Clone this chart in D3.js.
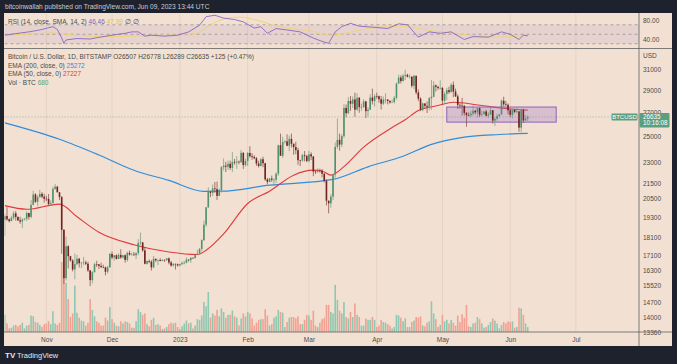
<!DOCTYPE html>
<html>
<head>
<meta charset="utf-8">
<script src="https://cdn.jsdelivr.net/npm/d3@7"></script>
<style>
  html, body { margin: 0; padding: 0; background: #1e222d; }
  svg { display: block; font-family: "Liberation Sans", Arial, sans-serif; }
</style>
</head>
<body>
<svg id="chart" width="677" height="364"></svg>
<script>
// ---- Daily BTCUSD (Bitstamp), 2022-10-13 .. 2023-06-09 ----
const firstDay = '2022-10-13';
const firstOpen = 19150;

const closes = [
  19380,19180,19070,19270,19550,19330,19120,19040,19170,19210,19570,19330,20090,20770,20290,20600,20810,20630,20490,
  20480,20150,20200,21150,21300,20920,20600,18540,15880,17590,17040,16800,16330,16610,16900,16660,16690,16700,16630,16280,15780,16190,16610,16600,16520,16460,16440,16210,16440,17160,
  16970,17090,16890,17110,16970,17090,16840,17220,17130,17130,17090,17210,17780,17810,17360,16630,16780,16740,16440,16900,16820,16830,16780,16840,16830,16920,16700,16540,16630,16600,16540,
  16610,16670,16680,16850,16830,16950,16940,17120,17180,17440,17940,18850,19930,20950,20880,21180,21130,20680,21070,22670,22780,22710,22920,22620,23060,23010,23080,23030,23740,22830,23130,
  23730,23490,23430,23330,22940,22760,23260,22960,21800,21630,21860,21780,21780,22200,24330,23520,24570,24630,24290,24830,24440,24180,23950,23190,23160,23560,23490,23130,
  23630,23470,22360,22350,22430,22410,22200,21700,20360,20190,20630,22150,24200,24750,24380,25050,27420,26960,28040,27790,28180,27270,28330,27490,27490,28000,27140,27270,28350,28030,28480,
  28470,28200,27800,28170,28170,28040,27920,27950,28330,29650,30230,29890,30400,30490,30320,30320,29440,30400,28820,28250,27270,27820,27600,27520,28300,28420,29470,29330,29230,29240,
  28070,28680,29030,28850,29530,28900,28450,27690,27630,27620,26990,26800,26780,26920,27170,27030,27400,26830,26890,27110,26750,26850,27220,26330,26470,26720,26860,28070,27740,27700,27210,
  26820,27250,27070,27120,25740,27230,26340,26507,26635
];

const highs = [
  19510,19950,19230,19400,19680,19700,19350,19340,19250,19250,19690,19600,20400,21020,20860,20740,21080,20930,20830,
  20690,20800,20390,21300,21470,21350,20920,20670,18590,18150,17650,17060,16880,17180,17110,16950,16730,17000,16800,16740,16300,16250,16680,16790,16620,16690,16580,16480,16530,17220,
  17300,17100,17140,17200,17420,17110,17140,17290,17350,17230,17270,17240,18000,18380,17840,17530,16800,16860,16820,17050,16900,16860,16940,16860,16860,16940,16970,16780,16650,16630,16640,
  16630,16760,16780,16980,16880,16990,16970,17150,17390,17490,17990,19100,19960,21260,21000,21450,21620,21650,21170,22750,23320,23060,23160,23160,23800,23280,23500,23160,23950,23790,23300,
  23800,24250,23720,23560,23430,23150,23350,23450,22990,21900,21900,22070,21890,22300,24370,25250,25000,24700,25190,25100,25250,24460,24600,24130,23220,23680,23880,23600,
  23900,23780,23480,22420,22600,22560,22540,22270,21800,20370,20800,22200,24550,26500,25250,25200,27750,27720,28400,28500,28450,28800,28750,28400,27800,28200,28050,27500,28650,29170,28650,
  28800,28530,28490,28440,28750,28190,28100,28170,28500,29750,30520,30450,30600,31000,30600,30550,30320,30480,30410,29100,28380,27880,27830,28000,28400,30000,29880,29580,29450,29960,
  29330,28890,29250,29350,29700,29840,29170,28640,27830,28330,27630,27060,27030,27180,27640,27260,27480,27470,27180,27150,27260,27050,27480,27230,26620,26920,26900,28180,28430,28040,27830,
  27350,27300,27320,27440,27130,27350,27360,26800,26778
];

const lows = [
  18190,19090,18990,19060,19160,19100,19070,18900,18660,19110,19070,19160,19240,20060,20220,20000,20560,20520,20240,
  20340,20060,20040,20180,21080,20900,20400,17170,15590,15760,16380,16750,16230,15820,16560,16430,16400,16550,16560,16200,15480,15620,16160,16460,16350,16400,16400,16020,16110,16430,
  16870,16800,16860,16880,16900,16910,16690,16740,17070,17090,17070,16880,17090,17660,17280,16600,16590,16660,16270,16400,16730,16560,16760,16770,16730,16790,16600,16470,16490,16330,16480,
  16500,16560,16600,16660,16750,16680,16910,16910,17100,17160,17320,17900,18720,19900,20600,20670,20880,20410,20660,20890,22440,22320,22490,22470,22330,22850,22550,22880,23000,22550,22720,
  22760,23380,23220,23260,22770,22650,22740,22670,21700,21470,21600,21630,21370,21550,22050,23500,23370,24460,24250,23870,24150,23600,23630,22840,22750,23070,23100,23030,
  23030,23200,22030,22180,22270,22280,21940,21590,20050,19550,19900,20400,21920,24050,23900,24180,24900,26600,26880,27170,27400,26650,27170,27000,27170,27440,26550,26660,27250,27720,27540,
  28240,27880,27280,27680,27830,27730,27790,27880,27810,28170,29620,29660,29860,29980,30240,30140,29270,29120,28630,28020,27140,27130,27380,26980,27210,27250,28380,28900,29050,29100,
  27690,27870,28120,28690,28820,28390,28400,27330,27350,26760,26750,25810,26690,26600,26740,26850,26580,26630,26670,26850,26680,26540,26820,26080,25870,26330,26570,26830,27560,27580,26850,
  26620,26520,26960,26950,25400,25360,26130,26320,26289
];

// volume in BTC
const volumes = [
  2400,1200,500,600,900,1000,800,1000,1300,500,900,1000,2300,2200,1400,1300,1000,700,1100,
  1200,1500,1100,2900,1200,1000,1300,9800,14300,6900,4600,2100,2600,6500,2700,2000,1600,1500,900,1300,4600,3100,2200,1500,1300,900,900,2000,1600,3500,
  1800,1300,900,800,1500,1200,1500,1400,1200,600,600,1500,3200,2800,2400,2600,1100,800,1700,2000,1000,1100,900,400,500,700,1100,1300,1200,1300,700,
  400,800,1200,1600,1200,1300,500,900,1800,1700,2300,4200,3600,5600,2000,2600,2300,3100,2200,3300,2800,2000,2400,2400,3000,2200,2000,900,1900,2600,2200,
  2800,2600,1900,900,1300,1700,1800,1800,3200,2300,900,1100,2000,2200,3100,2800,2700,700,1400,2000,2100,2100,1900,2200,1100,1100,1700,2400,
  2300,1700,3000,900,700,1300,1800,2000,3800,3800,2800,2600,6600,4500,3000,2600,4200,2100,1900,2800,2100,4000,2400,2100,900,900,1900,1700,1700,2100,1700,
  700,900,1700,1400,1300,1100,900,500,700,2400,2300,2000,1500,1900,700,700,1400,1600,2100,2000,2200,900,800,1300,1500,4300,2600,1800,700,1000,
  2400,1500,1700,1200,1700,1300,900,2300,1400,2500,2000,3800,800,700,1200,1300,2100,1800,1200,600,700,1000,1400,1900,1600,1200,500,1000,1400,1200,1500,
  1400,1500,600,700,3400,3300,2400,1200,680
];

// EMA lines
const ema200Dates = ['2022-10-13','2022-11-07','2022-11-25','2022-12-11','2022-12-27','2023-01-12','2023-01-20','2023-02-11','2023-03-12','2023-03-28','2023-04-13','2023-04-26','2023-05-09','2023-05-27','2023-06-09'];
const ema200Values = [26140,24800,23580,22450,21730,20980,20990,21400,21800,22700,23480,24390,24910,25180,25272];

const ema50Dates = ['2022-10-13','2022-10-23','2022-11-07','2022-11-15','2022-11-25','2022-12-11','2022-12-27','2023-01-09','2023-01-13','2023-01-21','2023-02-01','2023-02-11','2023-02-22','2023-03-03','2023-03-07','2023-03-11','2023-03-17','2023-03-26','2023-04-08','2023-04-14','2023-04-20','2023-04-29','2023-05-06','2023-05-19','2023-06-01','2023-06-09'];
const ema50Values = [20040,19810,20140,19340,18400,17680,17270,17130,17370,18300,20180,20990,22100,22460,22400,22100,22710,24180,25750,26400,27190,27630,27920,27630,27330,27227];

// RSI panel
const rsiDates = ['2022-10-13','2022-10-19','2022-10-24','2022-10-29','2022-11-04','2022-11-06','2022-11-08','2022-11-09','2022-11-10','2022-11-15','2022-11-21','2022-11-25','2022-12-01','2022-12-07','2022-12-10','2022-12-13','2022-12-16','2022-12-19','2022-12-25','2022-12-31','2023-01-05','2023-01-10','2023-01-13','2023-01-17','2023-01-21','2023-01-26','2023-01-30','2023-02-04','2023-02-07','2023-02-10','2023-02-14','2023-02-19','2023-02-25','2023-03-03','2023-03-07','2023-03-10','2023-03-13','2023-03-16','2023-03-20','2023-03-24','2023-03-30','2023-04-06','2023-04-11','2023-04-15','2023-04-20','2023-04-25','2023-04-30','2023-05-05','2023-05-11','2023-05-15','2023-05-22','2023-05-28','2023-06-01','2023-06-05','2023-06-07','2023-06-09'];
const rsiValues = [48,52,55,59,66,60,42,31,38,41,40,43.5,48,52,55,55,46,48,46,48,55,69,87,90,84,81,76,63,66,52,62,59,55,42,35,31,55,66,73,67,65,62,72,70,44,55,52,55,39,45,44,55,50,39,48,46.46];

const rsiSmaDates = ['2022-10-13','2022-10-24','2022-11-04','2022-11-10','2022-11-20','2022-12-05','2022-12-20','2023-01-05','2023-01-10','2023-01-15','2023-01-22','2023-01-28','2023-02-05','2023-02-12','2023-02-20','2023-03-01','2023-03-10','2023-03-16','2023-03-24','2023-04-03','2023-04-12','2023-04-20','2023-04-27','2023-05-05','2023-05-15','2023-05-25','2023-06-01','2023-06-09'];
const rsiSmaValues = [48,50,53,50,46,45,48,48,55,70,83,86,80,70,62,58,48,50,59,65,67,62,57,53,47,44,45,47.99];

// axis labels
const priceTicks = [31000,29000,27000,25000,23000,21500,20500,19300,18100,17100,16300,15520,14700,14000,13360];
const monthTicks = ['2022-11-01','2022-12-01','2023-01-01','2023-02-01','2023-03-01','2023-04-01','2023-05-01','2023-06-01','2023-07-01'];
const monthLabels = ['Nov','Dec','2023','Feb','Mar','Apr','May','Jun','Jul'];

// consolidation box drawn on the chart
const boxDates = ['2023-05-03','2023-06-22'];
const boxPrices = [27500, 26200];

// ---- layout ----
const BG = '#f2e1d2';
const TEXT = '#4a4a4a';
const UP = '#4f936e', DOWN = '#72231f';
const VOL_UP = '#8ec8b2', VOL_DOWN = '#f0a192';
const plot = { left: 4.5, right: 639, rsiTop: 13.5, rsiBottom: 48.5, top: 48.5, bottom: 332 };

const parse = d3.utcParse('%Y-%m-%d');
const day0 = parse(firstDay);
const bars = closes.map((c, i) => ({
  date: d3.utcDay.offset(day0, i),
  open: i === 0 ? firstOpen : closes[i - 1], // crypto trades 24/7: open = previous close
  high: highs[i],
  low: lows[i],
  close: c,
  vol: volumes[i]
}));

const svg = d3.select('#chart');

// scales
const x = d3.scaleUtc()
  .domain([parse('2022-11-08'), parse('2023-06-05')])
  .range([61.7, 519]);
const y = d3.scaleLog().domain([13360, 31000]).range([332, 69.7]);
const yVol = d3.scaleLinear().domain([0, 14000]).range([332, 232]);
const yRsi = d3.scaleLinear().domain([40, 80]).range([39, 20]);

// panel background
svg.append('rect')
  .attr('x', 4).attr('y', 13).attr('width', 668).attr('height', 333)
  .attr('fill', BG);

const defs = svg.append('defs');
defs.append('clipPath').attr('id', 'clipMain').append('rect')
  .attr('x', plot.left).attr('y', plot.top)
  .attr('width', plot.right - plot.left).attr('height', plot.bottom - plot.top);
defs.append('clipPath').attr('id', 'clipRsi').append('rect')
  .attr('x', plot.left).attr('y', plot.rsiTop)
  .attr('width', plot.right - plot.left).attr('height', plot.rsiBottom - plot.rsiTop);

// vertical month grid
svg.append('g')
  .selectAll('line')
  .data(monthTicks.map(parse))
  .join('line')
  .attr('x1', d => x(d)).attr('x2', d => x(d))
  .attr('y1', plot.rsiTop).attr('y2', plot.bottom)
  .attr('stroke', '#e6d3c3').attr('stroke-width', 1);

// ---- RSI panel ----
const rsiG = svg.append('g').attr('clip-path', 'url(#clipRsi)');
rsiG.append('rect')
  .attr('x', plot.left).attr('width', plot.right - plot.left)
  .attr('y', yRsi(70)).attr('height', yRsi(30) - yRsi(70))
  .attr('fill', '#7e57c2').attr('fill-opacity', 0.1);
rsiG.selectAll('.band')
  .data([70, 50, 30])
  .join('line')
  .attr('x1', plot.left).attr('x2', plot.right)
  .attr('y1', d => yRsi(d)).attr('y2', d => yRsi(d))
  .attr('stroke', '#8a8a8a').attr('stroke-width', 0.7)
  .attr('stroke-dasharray', '3,3');

const rsiLine = d3.line()
  .x(d => x(d[0]))
  .y(d => yRsi(d[1]))
  .curve(d3.curveLinear);
rsiG.append('path')
  .datum(rsiSmaDates.map((d, i) => [parse(d), rsiSmaValues[i]]))
  .attr('d', rsiLine.curve(d3.curveMonotoneX))
  .attr('fill', 'none').attr('stroke', '#f0d36b').attr('stroke-width', 0.9);
rsiG.append('path')
  .datum(rsiDates.map((d, i) => [parse(d), rsiValues[i]]))
  .attr('d', rsiLine.curve(d3.curveLinear))
  .attr('fill', 'none').attr('stroke', '#7e57c2').attr('stroke-width', 0.8);

// ---- main panel ----
const main = svg.append('g').attr('clip-path', 'url(#clipMain)');

// volume
main.append('g')
  .selectAll('rect')
  .data(bars)
  .join('rect')
  .attr('x', d => x(d.date) - 0.8)
  .attr('width', 1.6)
  .attr('y', d => yVol(d.vol))
  .attr('height', d => yVol(0) - yVol(d.vol))
  .attr('fill', d => d.close >= d.open ? VOL_UP : VOL_DOWN);

// EMA lines
const priceLine = d3.line()
  .x(d => x(d[0]))
  .y(d => y(d[1]))
  .curve(d3.curveMonotoneX);
main.append('path')
  .datum(ema200Dates.map((d, i) => [parse(d), ema200Values[i]]))
  .attr('d', priceLine)
  .attr('fill', 'none').attr('stroke', '#2f8ddb').attr('stroke-width', 1.2);
main.append('path')
  .datum(ema50Dates.map((d, i) => [parse(d), ema50Values[i]]))
  .attr('d', priceLine)
  .attr('fill', 'none').attr('stroke', '#e03a3e').attr('stroke-width', 1.1);

// last price dotted line
const last = bars[bars.length - 1];
main.append('line')
  .attr('x1', plot.left).attr('x2', plot.right)
  .attr('y1', y(last.close)).attr('y2', y(last.close))
  .attr('stroke', '#79a98f').attr('stroke-width', 0.8)
  .attr('stroke-dasharray', '1,2');

// box
main.append('rect')
  .attr('x', x(parse(boxDates[0])))
  .attr('width', x(parse(boxDates[1])) - x(parse(boxDates[0])))
  .attr('y', y(boxPrices[0]))
  .attr('height', y(boxPrices[1]) - y(boxPrices[0]))
  .attr('fill', '#9c72c9').attr('fill-opacity', 0.3)
  .attr('stroke', '#8e63b8').attr('stroke-width', 1);

// candles
const candles = main.append('g')
  .selectAll('g')
  .data(bars)
  .join('g');
candles.append('line')
  .attr('x1', d => x(d.date)).attr('x2', d => x(d.date))
  .attr('y1', d => y(d.high)).attr('y2', d => y(d.low))
  .attr('stroke', d => d.close >= d.open ? '#6f9a82' : '#7a4540')
  .attr('stroke-width', 0.7);
candles.append('rect')
  .attr('x', d => x(d.date) - 0.8)
  .attr('width', 1.6)
  .attr('y', d => y(Math.max(d.open, d.close)))
  .attr('height', d => Math.max(0.6, Math.abs(y(d.open) - y(d.close))))
  .attr('fill', d => d.close >= d.open ? UP : DOWN);

// ---- axes ----
const yAxis = svg.append('g')
  .attr('transform', `translate(${plot.right},0)`)
  .call(d3.axisRight(y).tickValues(priceTicks).tickFormat(d3.format('d')).tickSize(0).tickPadding(4));
yAxis.select('.domain').remove();
yAxis.selectAll('text').attr('fill', TEXT).attr('font-size', 6.5).attr('font-family', '"Liberation Sans", Arial, sans-serif');

const rsiAxis = svg.append('g')
  .attr('transform', `translate(${plot.right},0)`)
  .call(d3.axisRight(yRsi).tickValues([80, 40]).tickFormat(d3.format('.2f')).tickSize(0).tickPadding(4));
rsiAxis.select('.domain').remove();
rsiAxis.selectAll('text').attr('fill', TEXT).attr('font-size', 6.5).attr('font-family', '"Liberation Sans", Arial, sans-serif');

const xAxis = svg.append('g')
  .attr('transform', `translate(0,${plot.bottom})`)
  .call(d3.axisBottom(x).tickValues(monthTicks.map(parse)).tickFormat((d, i) => monthLabels[i]).tickSize(0).tickPadding(5));
xAxis.select('.domain').remove();
xAxis.selectAll('text').attr('fill', TEXT).attr('font-size', 6.5).attr('font-family', '"Liberation Sans", Arial, sans-serif');

svg.append('text').attr('x', 643).attr('y', 57.5)
  .attr('font-size', 6.5).attr('fill', TEXT).text('USD');

// separators
const sep = svg.append('g').attr('stroke', '#5f5f5f').attr('stroke-width', 0.8);
sep.append('line').attr('x1', plot.right).attr('x2', plot.right).attr('y1', 13).attr('y2', 346);
sep.append('line').attr('x1', 4).attr('x2', 672).attr('y1', plot.rsiBottom).attr('y2', plot.rsiBottom);
sep.append('line').attr('x1', 4).attr('x2', 672).attr('y1', plot.bottom).attr('y2', plot.bottom);

// price labels on the right
const lastY = y(last.close);
svg.append('rect').attr('x', 611.5).attr('y', lastY - 3.5).attr('width', 26).attr('height', 7)
  .attr('rx', 1).attr('fill', '#5b9f7f');
svg.append('text').attr('x', 624.5).attr('y', lastY + 2.2).attr('text-anchor', 'middle')
  .attr('font-size', 6).attr('fill', '#fff').text('BTCUSD');
svg.append('rect').attr('x', 639.5).attr('y', lastY - 4).attr('width', 30).attr('height', 14.5)
  .attr('rx', 1).attr('fill', '#5b9f7f');
svg.append('text').attr('x', 643).attr('y', lastY + 1.8)
  .attr('font-size', 6.3).attr('fill', '#fff').text(String(last.close));
svg.append('text').attr('x', 643).attr('y', lastY + 8.5)
  .attr('font-size', 6.3).attr('fill', '#fff').text('10:16:08');

// ---- legends ----
function legendLine(yPos, parts) {
  const t = svg.append('text').attr('x', 8).attr('y', yPos).attr('font-size', 6.5);
  parts.forEach(([txt, col]) => t.append('tspan').attr('fill', col).text(txt));
}
legendLine(23.5, [['RSI (14, close, SMA, 14, 2)  ', TEXT], ['46.46', '#7e57c2'], ['  ', TEXT], ['47.99', '#e3c24a'], ['  \u2205  \u2205', TEXT]]);
legendLine(58.7, [['Bitcoin / U.S. Dollar, 1D, BITSTAMP  O26507  H26778  L26289  C26635  +125 (+0.47%)', TEXT]]);
legendLine(67.5, [['EMA (200, close, 0)  ', TEXT], ['25272', '#2f8ddb']]);
legendLine(76.3, [['EMA (50, close, 0)  ', TEXT], ['27227', '#e03a3e']]);
legendLine(85, [['Vol \u00b7 BTC  ', TEXT], ['680', '#4fa884']]);

// header and footer on the dark frame
svg.append('text').attr('x', 5).attr('y', 9).attr('font-size', 6.6).attr('fill', '#c9ccd4')
  .text('bitcoinwallah published on TradingView.com, Jun 09, 2023 13:44 UTC');
svg.append('text').attr('x', 5).attr('y', 358).attr('font-size', 8).attr('font-weight', 'bold')
  .attr('fill', '#e8e8ec').text('TV');
svg.append('text').attr('x', 17).attr('y', 358).attr('font-size', 7.5).attr('fill', '#e8e8ec')
  .text('TradingView');
</script>
</body>
</html>
